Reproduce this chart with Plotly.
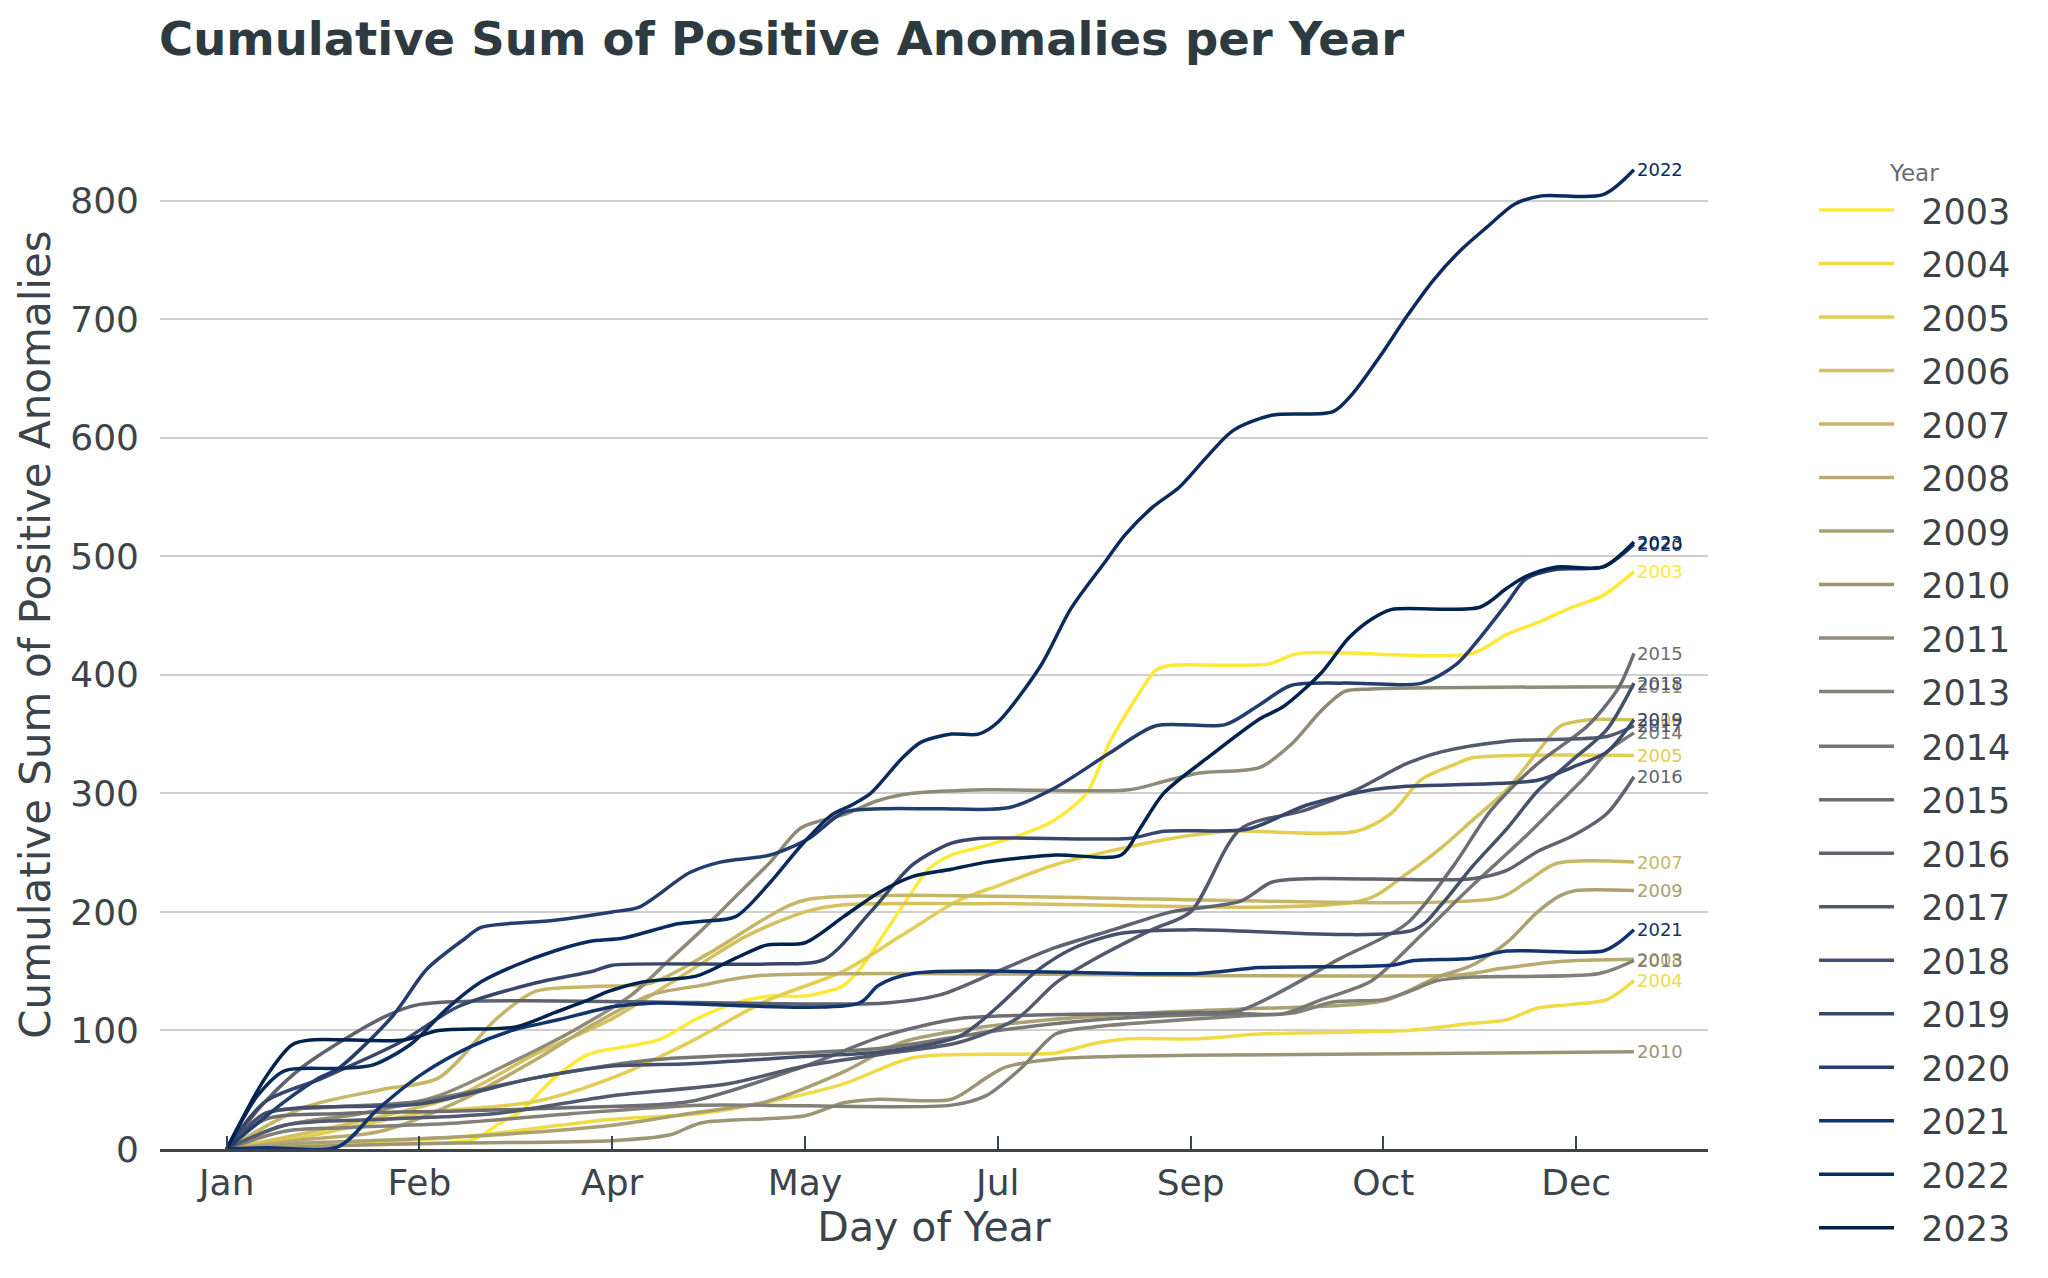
import plotly.graph_objects as go
from plotly.colors import sample_colorscale

# ---------------- data (day of year, cumulative sum) ----------------
years = [2003, 2004, 2005, 2006, 2007, 2008, 2009, 2010, 2011,
         2013, 2014, 2015, 2016, 2017, 2018, 2019, 2020, 2021, 2022, 2023]

month_tickvals = [0, 50, 100, 150, 200, 250, 300, 350]
month_ticktext = ["Jan", "Feb", "Apr", "May", "Jul", "Sep", "Oct", "Dec"]
y_tickvals = [0, 100, 200, 300, 400, 500, 600, 700, 800]

d2003 = [0, 20, 55, 64, 71, 76, 85, 94, 103, 112, 122, 132, 141, 150, 160, 165, 171, 177, 182, 188, 197, 206, 214, 223, 229, 236, 241, 245, 270, 278, 323, 332, 340, 349, 357, 365]
v2003 = [0, 3, 5, 8, 22, 31, 60, 80, 86, 92, 110, 123, 129, 129, 138, 155, 184, 213, 236, 248, 256, 265, 276, 300, 343, 381, 404, 408, 409, 418, 418, 434, 444, 457, 467, 487]

d2004 = [0, 30, 60, 100, 123, 141, 160, 178, 206, 215, 225, 234, 252, 268, 306, 323, 332, 340, 349, 358, 365]
v2004 = [0, 5, 10, 25, 30, 40, 55, 77, 80, 81, 89, 93, 93, 97, 100, 106, 109, 119, 122, 126, 142]

d2005 = [0, 20, 50, 80, 100, 120, 140, 160, 175, 190, 200, 215, 230, 245, 260, 293, 302, 310, 319, 323, 365]
v2005 = [0, 10, 30, 40, 60, 90, 125, 150, 180, 210, 222, 240, 252, 262, 268, 268, 283, 312, 325, 330, 332]

d2006 = [0, 30, 60, 80, 100, 120, 135, 150, 160, 200, 295, 306, 315, 323, 332, 340, 346, 353, 365]
v2006 = [0, 20, 45, 80, 110, 150, 180, 200, 206, 207, 210, 232, 254, 277, 303, 335, 357, 362, 362]

d2007 = [0, 20, 40, 55, 70, 80, 95, 110, 125, 140, 150, 330, 337, 345, 365]
v2007 = [0, 35, 50, 60, 110, 133, 137, 140, 165, 195, 210, 212, 225, 241, 242]

d2008 = [0, 20, 40, 60, 80, 95, 110, 123, 137, 320, 330, 345, 365]
v2008 = [0, 8, 15, 40, 75, 105, 130, 138, 146, 147, 152, 158, 160]

d2009 = [0, 20, 45, 70, 100, 120, 140, 160, 175, 190, 210, 240, 263, 300, 314, 323, 332, 340, 346, 350, 365]
v2009 = [0, 5, 8, 12, 20, 30, 40, 65, 90, 100, 108, 115, 118, 125, 145, 155, 174, 200, 214, 218, 218]

d2010 = [0, 30, 60, 100, 115, 123, 150, 160, 169, 188, 197, 202, 215, 250, 365]
v2010 = [0, 3, 5, 7, 12, 22, 28, 39, 42, 42, 60, 69, 76, 79, 82]

d2011 = [0, 15, 35, 55, 75, 90, 105, 115, 123, 132, 141, 149, 160, 169, 178, 197, 234, 243, 252, 268, 276, 284, 290, 297, 365]
v2011 = [0, 20, 30, 45, 75, 100, 130, 160, 184, 213, 242, 271, 282, 294, 300, 303, 303, 310, 317, 322, 341, 370, 386, 388, 390]

d2013 = [0, 15, 30, 60, 90, 123, 188, 197, 206, 215, 225, 262, 277, 287, 300, 306, 314, 323, 356, 365]
v2013 = [0, 15, 18, 22, 30, 37, 37, 45, 68, 97, 103, 112, 115, 124, 126, 132, 142, 145, 148, 159]

d2014 = [0, 10, 25, 50, 80, 110, 140, 170, 200, 230, 263, 274, 284, 297, 310, 323, 336, 345, 353, 358, 365]
v2014 = [0, 30, 35, 40, 60, 75, 80, 85, 100, 110, 114, 114, 126, 142, 181, 222, 261, 290, 316, 335, 351]

d2015 = [0, 10, 30, 60, 90, 120, 150, 170, 190, 210, 250, 263, 289, 306, 318, 328, 340, 353, 361, 365]
v2015 = [0, 25, 30, 32, 35, 40, 70, 95, 110, 113, 115, 117, 161, 190, 238, 286, 325, 357, 389, 418]

d2016 = [0, 10, 20, 40, 50, 170, 185, 200, 215, 230, 245, 263, 271, 280, 323, 332, 340, 349, 358, 365]
v2016 = [0, 40, 70, 110, 122, 123, 130, 150, 170, 185, 200, 209, 225, 228, 228, 235, 251, 264, 283, 314]

d2017 = [0, 15, 40, 70, 100, 130, 150, 170, 190, 205, 215, 225, 240, 250, 263, 280, 293, 306, 315, 332, 358, 365]
v2017 = [0, 20, 25, 30, 45, 55, 70, 80, 90, 110, 140, 160, 185, 200, 270, 286, 303, 325, 335, 344, 348, 357]

d2018 = [0, 10, 20, 50, 80, 100, 120, 150, 170, 190, 200, 210, 220, 232, 250, 308, 315, 323, 332, 340, 349, 358, 365]
v2018 = [0, 30, 35, 38, 60, 70, 72, 78, 82, 95, 120, 150, 170, 182, 185, 185, 206, 238, 270, 302, 328, 354, 393]

d2019 = [0, 10, 25, 45, 60, 80, 95, 100, 140, 155, 167, 178, 188, 195, 234, 243, 265, 280, 297, 306, 340, 349, 358, 365]
v2019 = [0, 40, 60, 90, 120, 140, 150, 155, 156, 160, 200, 240, 258, 262, 262, 268, 270, 290, 303, 306, 311, 322, 335, 362]

d2020 = [0, 15, 24, 29, 43, 52, 62, 66, 85, 100, 107, 120, 128, 141, 151, 160, 170, 185, 203, 215, 229, 241, 259, 268, 276, 290, 310, 319, 325, 332, 337, 345, 357, 365]
v2020 = [0, 40, 60, 68, 112, 152, 178, 187, 193, 200, 204, 233, 242, 248, 262, 284, 287, 287, 288, 305, 334, 357, 358, 375, 391, 393, 393, 409, 431, 460, 481, 489, 491, 510]

d2021 = [0, 10, 29, 39, 51, 63, 74, 86, 100, 110, 164, 169, 178, 252, 268, 302, 308, 323, 332, 357, 361, 365]
v2021 = [0, 1, 2, 33, 64, 86, 100, 109, 120, 123, 123, 138, 148, 148, 153, 155, 159, 161, 167, 167, 174, 185]

d2022 = [0, 8, 15, 29, 38, 48, 57, 66, 75, 85, 94, 103, 117, 123, 132, 141, 149, 157, 162, 167, 175, 180, 188, 195, 200, 211, 219, 228, 233, 240, 247, 254, 261, 271, 287, 292, 299, 306, 313, 320, 327, 334, 341, 357, 365]
v2022 = [0, 45, 66, 68, 71, 89, 118, 141, 155, 167, 175, 178, 190, 192, 196, 225, 256, 282, 290, 300, 329, 343, 350, 350, 360, 407, 456, 496, 518, 541, 558, 583, 606, 619, 622, 637, 668, 702, 733, 758, 778, 797, 804, 805, 826]

d2023 = [0, 10, 17, 22, 46, 55, 75, 85, 94, 99, 108, 122, 132, 140, 150, 160, 169, 178, 188, 197, 215, 232, 237, 243, 254, 268, 274, 284, 291, 297, 302, 325, 332, 337, 345, 357, 365]
v2023 = [0, 60, 88, 92, 92, 100, 103, 115, 126, 133, 141, 146, 161, 172, 174, 196, 216, 230, 236, 242, 248, 248, 271, 300, 329, 363, 373, 402, 431, 447, 455, 457, 473, 483, 491, 491, 512]

series_days = [d2003, d2004, d2005, d2006, d2007, d2008, d2009, d2010, d2011,
               d2013, d2014, d2015, d2016, d2017, d2018, d2019, d2020, d2021, d2022, d2023]
series_vals = [v2003, v2004, v2005, v2006, v2007, v2008, v2009, v2010, v2011,
               v2013, v2014, v2015, v2016, v2017, v2018, v2019, v2020, v2021, v2022, v2023]

# ---------------- figure ----------------
n = len(years)
colors = sample_colorscale("Cividis", [1 - i / (n - 1) for i in range(n)])

FONT = "DejaVu Sans"
TXT = "#3d4449"
W, H = 2040, 1270   # page body adds an 8px margin

fig = go.Figure()
for i, (yr, dd, vv, col) in enumerate(zip(years, series_days, series_vals, colors)):
    fig.add_trace(go.Scatter(
        x=dd, y=vv, mode="lines", name="\u00a0\u00a0" + str(yr),
        legendgroup=str(yr),
        legend="legend" if i < 10 else "legend2",
        line=dict(color=col, width=3.5, shape="spline", smoothing=0.8),
    ))
    fig.add_annotation(
        x=dd[-1], y=vv[-1], text=str(yr), showarrow=False,
        xanchor="left", yanchor="middle", xshift=1,
        font=dict(family=FONT, size=18, color=col),
    )

legend_common = dict(
    font=dict(size=35, color=TXT),
    x=1.0685, xanchor="left", yanchor="top",
    bgcolor="rgba(0,0,0,0)", itemwidth=75, tracegroupgap=5,
)

fig.update_layout(
    width=W, height=H,
    margin=dict(l=152, r=340, t=112, b=129, autoexpand=False),
    paper_bgcolor="white", plot_bgcolor="white",
    font=dict(family=FONT, color=TXT, size=36),
    title=dict(
        text="Cumulative Sum of Positive Anomalies per Year",
        x=151 / W, xanchor="left", xref="container",
        y=1 - 31 / H, yanchor="middle", yref="container",
        font=dict(family=FONT, size=46.5, color="#2d3a40", weight="bold"),
    ),
    legend=dict(
        title=dict(text="Year", side="top center", font=dict(size=23, color="#666c70")),
        y=0.970, **legend_common,
    ),
    legend2=dict(y=0.4198, **legend_common),
    showlegend=True,
)

fig.update_xaxes(
    range=[-17.3, 384.2],
    tickvals=month_tickvals, ticktext=month_ticktext,
    ticks="inside", ticklen=13, tickwidth=2, tickcolor=TXT,
    showline=True, linecolor=TXT, linewidth=3,
    showgrid=False, zeroline=False,
    tickfont=dict(size=36, color=TXT),
    title=dict(text="Day of Year", font=dict(size=41, color=TXT), standoff=4),
)
fig.update_yaxes(
    range=[0, 868],
    tickvals=y_tickvals,
    showgrid=True, gridcolor="#cfcfcf", gridwidth=2,
    showline=False, zeroline=False, ticks="",
    ticklabelstandoff=20,
    tickfont=dict(size=36, color=TXT),
    title=dict(text="Cumulative Sum of Positive Anomalies", font=dict(size=42, color=TXT), standoff=6),
)

fig.write_html("out.html")
